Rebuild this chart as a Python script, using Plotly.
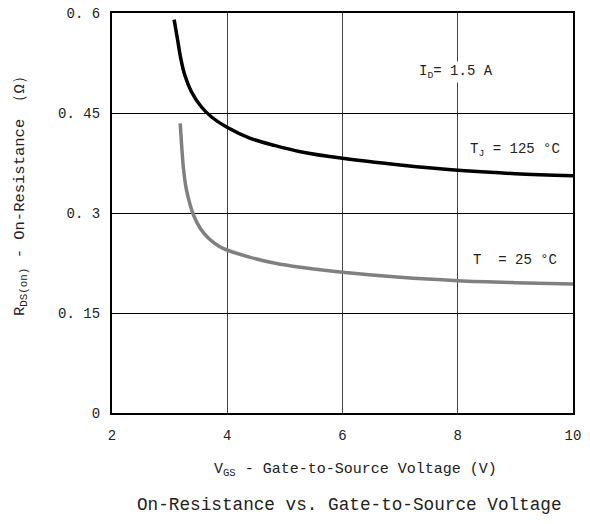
import plotly.graph_objects as go

# Data
vgs_125 = [3.078, 3.136, 3.195, 3.264, 3.38, 3.553, 3.727, 3.988, 4.40, 4.835, 5.27, 6.0, 7.0, 8.0, 9.0, 10.0]
r_125 = [0.590, 0.561, 0.531, 0.5065, 0.4815, 0.459, 0.444, 0.429, 0.412, 0.401, 0.392, 0.382, 0.372, 0.364, 0.359, 0.356]

vgs_25 = [3.183, 3.212, 3.24, 3.287, 3.357, 3.414, 3.53, 3.675, 3.85, 3.995, 4.40, 4.835, 5.27, 6.0, 7.0, 8.0, 9.0, 10.0]
r_25 = [0.4345, 0.397, 0.367, 0.337, 0.312, 0.297, 0.277, 0.262, 0.2505, 0.2445, 0.2335, 0.2245, 0.2185, 0.211, 0.2035, 0.1985, 0.1955, 0.1935]

x_ticks = [2, 4, 6, 8, 10]
y_ticks = [0, 0.15, 0.3, 0.45, 0.6]
y_tick_labels = ["0", "0. 15", "0. 3", "0. 45", "0. 6"]

FONT = "Liberation Mono"
TXT = "#222"

fig = go.Figure()
fig.add_trace(go.Scatter(x=vgs_125, y=r_125, mode="lines",
                         line=dict(color="black", width=3.5, shape="spline", smoothing=1.0),
                         showlegend=False))
fig.add_trace(go.Scatter(x=vgs_25, y=r_25, mode="lines",
                         line=dict(color="#808080", width=3.5, shape="spline", smoothing=1.0),
                         showlegend=False))

fig.add_annotation(x=7.97, y=0.511, text="I<sub>D</sub>= 1.5 A", showarrow=False,
                   font=dict(family=FONT, size=14, color=TXT), bgcolor="white")
fig.add_annotation(x=8.99, y=0.394, text="T<sub>J</sub> = 125 °C", showarrow=False,
                   font=dict(family=FONT, size=14, color=TXT))
fig.add_annotation(x=9.0, y=0.229, text="T  = 25 °C", showarrow=False,
                   font=dict(family=FONT, size=14, color=TXT))

# axis titles and chart title (positions relative to the plot area)
fig.add_annotation(xref="paper", yref="paper", x=(355 - 112) / 461, y=(413 - 470) / 400,
                   text="V<sub>GS</sub> - Gate-to-Source Voltage (V)", showarrow=False,
                   xanchor="center", yanchor="middle", font=dict(family=FONT, size=15, color=TXT))
fig.add_annotation(xref="paper", yref="paper", x=(349 - 112) / 461, y=(413 - 505) / 400,
                   text="On-Resistance vs. Gate-to-Source Voltage", showarrow=False,
                   xanchor="center", yanchor="middle", font=dict(family=FONT, size=17.7, color=TXT))
fig.add_annotation(xref="paper", yref="paper", x=(20 - 112) / 461, y=(413 - 192) / 400,
                   text="R<sub>DS(on)</sub> - On-Resistance （Ω）", showarrow=False, textangle=-90,
                   xanchor="center", yanchor="middle", font=dict(family=FONT, size=15.5, color=TXT))

fig.update_layout(
    width=590, height=524,
    margin=dict(l=112, r=17, t=13, b=111, autoexpand=False),
    paper_bgcolor="white", plot_bgcolor="white",
    font=dict(family=FONT, size=14, color=TXT),
    xaxis=dict(range=[2, 10], tickvals=x_ticks, showgrid=True, gridcolor="#444", gridwidth=1.2,
               showline=True, linecolor="black", linewidth=2.2, mirror=True, zeroline=False,
               ticks="", ticklabelstandoff=8, automargin=False,
               tickfont=dict(family=FONT, size=14, color=TXT)),
    yaxis=dict(range=[0, 0.6], tickvals=y_ticks, ticktext=y_tick_labels, showgrid=True,
               gridcolor="black", gridwidth=1.2, showline=True, linecolor="black", linewidth=2.2,
               mirror=True, zeroline=False, ticks="", ticklabelstandoff=7, automargin=False,
               tickfont=dict(family=FONT, size=14, color=TXT)),
)

# remove the default page margin so the figure sits at the window's top-left corner
fig.write_html("out.html", config={"displayModeBar": False},
               post_script="document.body.style.margin='0px';")
